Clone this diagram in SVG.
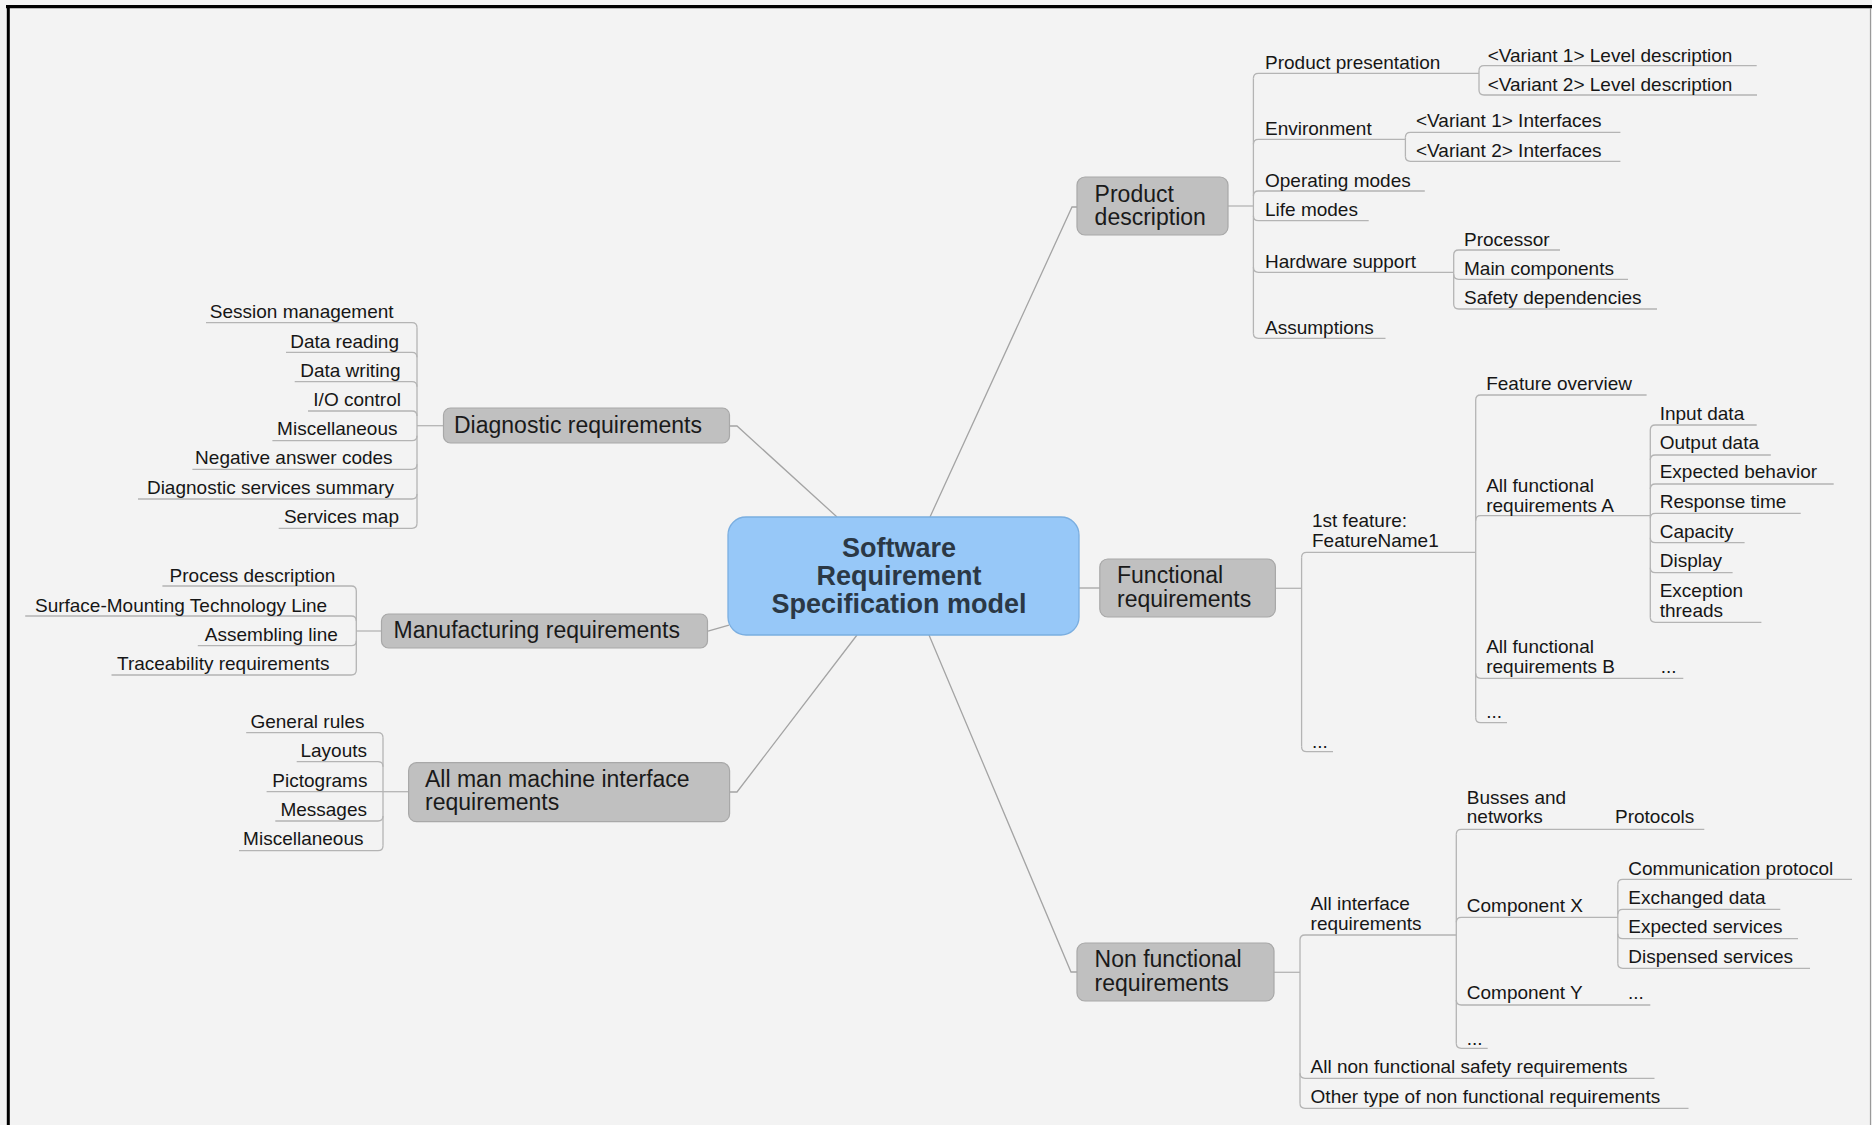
<svg xmlns="http://www.w3.org/2000/svg" width="1872" height="1125" viewBox="0 0 1872 1125">
<style>
.t{font-family:"Liberation Sans",Arial,sans-serif;font-size:19px;fill:#161616}
.e{text-anchor:end}
.m{font-family:"Liberation Sans",Arial,sans-serif;font-size:23px;fill:#1a1a1a}
.c{font-family:"Liberation Sans",Arial,sans-serif;font-size:27px;font-weight:bold;fill:#2b3845;text-anchor:middle}
.box{fill:#c0c0c0;stroke:#a8a8a8;stroke-width:1.2}
.ln{fill:none;stroke:#b4b4b4;stroke-width:1.3}
.mc{fill:none;stroke:#a4a4a4;stroke-width:1.3}
</style>
<rect width="1872" height="1125" fill="#f3f3f3"/>
<line x1="6" y1="6.7" x2="1872" y2="6.7" stroke="#000" stroke-width="3.2"/>
<line x1="8.3" y1="5" x2="8.3" y2="1125" stroke="#000" stroke-width="3"/>
<line x1="1870.5" y1="8" x2="1870.5" y2="1125" stroke="#9a9a9a" stroke-width="1.2"/>

<g id="connectors">
<path class="mc" d="M930,517 L1072,207 H1078"/>
<path class="mc" d="M837,517 L737,426 H729.5"/>
<path class="mc" d="M729,625 L708,631"/>
<path class="mc" d="M857,635 L737,792 H729.5"/>
<path class="mc" d="M1079,588 H1099.8"/>
<path class="mc" d="M929,635 L1071,972 H1077"/>

<!-- Product description -->
<path class="ln" d="M1228,206 H1253.4"/>
<path class="ln" d="M1479,73.3 H1258.4 Q1253.4,73.3 1253.4,78.3"/>
<path class="ln" d="M1405.4,139.3 H1258.4 Q1253.4,139.3 1253.4,144.3"/>
<path class="ln" d="M1424.8,191 H1258.4 Q1253.4,191 1253.4,196"/>
<path class="ln" d="M1368.7,220.7 H1258.4 Q1253.4,220.7 1253.4,215.7"/>
<path class="ln" d="M1453.7,272.3 H1258.4 Q1253.4,272.3 1253.4,267.3"/>
<path class="ln" d="M1385.5,338.3 H1258.4 Q1253.4,338.3 1253.4,333.3"/>
<path class="ln" d="M1253.4,78.3 V333.3"/>
<path class="ln" d="M1756.7,65.7 H1484 Q1479,65.7 1479,70.7"/>
<path class="ln" d="M1757,95 H1484 Q1479,95 1479,90"/>
<path class="ln" d="M1479,70.7 V90"/>
<path class="ln" d="M1620.4,132.3 H1410.4 Q1405.4,132.3 1405.4,137.3"/>
<path class="ln" d="M1620.4,161.3 H1410.4 Q1405.4,161.3 1405.4,156.3"/>
<path class="ln" d="M1405.4,137.3 V156.3"/>
<path class="ln" d="M1560,250 H1458.7 Q1453.7,250 1453.7,255"/>
<path class="ln" d="M1628,279.3 H1458.7 Q1453.7,279.3 1453.7,274.3"/>
<path class="ln" d="M1657,309 H1458.7 Q1453.7,309 1453.7,304"/>
<path class="ln" d="M1453.7,255 V304"/>

<!-- Diagnostic -->
<path class="ln" d="M417,425.7 H443.5"/>
<path class="ln" d="M206,322.7 H412 Q417,322.7 417,327.7"/>
<path class="ln" d="M286,352.3 H412 Q417,352.3 417,357.3"/>
<path class="ln" d="M294.7,381.7 H412 Q417,381.7 417,386.7"/>
<path class="ln" d="M308,411 H412 Q417,411 417,416"/>
<path class="ln" d="M272.4,440.7 H412 Q417,440.7 417,435.7"/>
<path class="ln" d="M192.4,469.3 H412 Q417,469.3 417,464.3"/>
<path class="ln" d="M138,499 H412 Q417,499 417,494"/>
<path class="ln" d="M278.7,528.3 H412 Q417,528.3 417,523.3"/>
<path class="ln" d="M417,327.7 V523.3"/>

<!-- Manufacturing -->
<path class="ln" d="M356.3,631 H381.5"/>
<path class="ln" d="M162.4,586 H351.3 Q356.3,586 356.3,591"/>
<path class="ln" d="M25.2,616 H351.3 Q356.3,616 356.3,621"/>
<path class="ln" d="M197.8,645.7 H351.3 Q356.3,645.7 356.3,640.7"/>
<path class="ln" d="M111.5,675 H351.3 Q356.3,675 356.3,670"/>
<path class="ln" d="M356.3,591 V670"/>

<!-- MMI -->
<path class="ln" d="M383,791.7 H408.6"/>
<path class="ln" d="M246.2,732.7 H378 Q383,732.7 383,737.7"/>
<path class="ln" d="M296.7,761.7 H378 Q383,761.7 383,766.7"/>
<path class="ln" d="M266.6,791.7 H383"/>
<path class="ln" d="M275.3,821 H378 Q383,821 383,816"/>
<path class="ln" d="M239,850.7 H378 Q383,850.7 383,845.7"/>
<path class="ln" d="M383,737.7 V845.7"/>

<!-- Functional -->
<path class="ln" d="M1275.4,588.3 H1301.6"/>
<path class="ln" d="M1475.7,552.3 H1306.6 Q1301.6,552.3 1301.6,557.3"/>
<path class="ln" d="M1333,751.7 H1306.6 Q1301.6,751.7 1301.6,746.7"/>
<path class="ln" d="M1301.6,557.3 V746.7"/>
<path class="ln" d="M1646.6,395 H1480.7 Q1475.7,395 1475.7,400"/>
<path class="ln" d="M1650.3,515.7 H1480.7 Q1475.7,515.7 1475.7,520.7"/>
<path class="ln" d="M1683.3,678.3 H1480.7 Q1475.7,678.3 1475.7,673.3"/>
<path class="ln" d="M1507,722.7 H1480.7 Q1475.7,722.7 1475.7,717.7"/>
<path class="ln" d="M1475.7,400 V717.7"/>
<path class="ln" d="M1756.7,425 H1655.3 Q1650.3,425 1650.3,430"/>
<path class="ln" d="M1770.8,455 H1655.3 Q1650.3,455 1650.3,460"/>
<path class="ln" d="M1833.7,484 H1655.3 Q1650.3,484 1650.3,489"/>
<path class="ln" d="M1800.7,513.3 H1655.3 Q1650.3,513.3 1650.3,518.3"/>
<path class="ln" d="M1744.6,542.7 H1655.3 Q1650.3,542.7 1650.3,537.7"/>
<path class="ln" d="M1732.6,572.7 H1655.3 Q1650.3,572.7 1650.3,567.7"/>
<path class="ln" d="M1761.4,622.3 H1655.3 Q1650.3,622.3 1650.3,617.3"/>
<path class="ln" d="M1650.3,430 V617.3"/>

<!-- Non functional -->
<path class="ln" d="M1274,972.3 H1300"/>
<path class="ln" d="M1456.3,935 H1305 Q1300,935 1300,940"/>
<path class="ln" d="M1654.5,1078.3 H1305 Q1300,1078.3 1300,1073.3"/>
<path class="ln" d="M1688.5,1108.3 H1305 Q1300,1108.3 1300,1103.3"/>
<path class="ln" d="M1300,940 V1103.3"/>
<path class="ln" d="M1704.3,829.3 H1461.3 Q1456.3,829.3 1456.3,834.3"/>
<path class="ln" d="M1617.8,917.3 H1461.3 Q1456.3,917.3 1456.3,922.3"/>
<path class="ln" d="M1650.3,1005 H1461.3 Q1456.3,1005 1456.3,1000"/>
<path class="ln" d="M1487.7,1048.3 H1461.3 Q1456.3,1048.3 1456.3,1043.3"/>
<path class="ln" d="M1456.3,834.3 V1043.3"/>
<path class="ln" d="M1852,879.3 H1622.8 Q1617.8,879.3 1617.8,884.3"/>
<path class="ln" d="M1780.3,909.3 H1622.8 Q1617.8,909.3 1617.8,914.3"/>
<path class="ln" d="M1798,938.7 H1622.8 Q1617.8,938.7 1617.8,933.7"/>
<path class="ln" d="M1810,968.3 H1622.8 Q1617.8,968.3 1617.8,963.3"/>
<path class="ln" d="M1617.8,884.3 V963.3"/>
</g>

<g id="central">
<rect x="728" y="517" width="351" height="118" rx="18" fill="#97c8f8" stroke="#7aaee0" stroke-width="1.3"/>
<text class="c" x="899" y="557">Software</text>
<text class="c" x="899" y="585">Requirement</text>
<text class="c" x="899" y="613">Specification model</text>
</g>

<g id="product-description">
<rect class="box" x="1077" y="177" width="151" height="58" rx="8"/>
<text class="m" x="1094.6" y="202">Product</text>
<text class="m" x="1094.6" y="225">description</text>
</g>
<g id="pd-children">
<text class="t" x="1265" y="69.3">Product presentation</text>
<text class="t" x="1487.7" y="61.7">&lt;Variant 1&gt; Level description</text>
<text class="t" x="1487.7" y="91">&lt;Variant 2&gt; Level description</text>
<text class="t" x="1265" y="135">Environment</text>
<text class="t" x="1416" y="127.3">&lt;Variant 1&gt; Interfaces</text>
<text class="t" x="1416" y="156.7">&lt;Variant 2&gt; Interfaces</text>
<text class="t" x="1265" y="186.7">Operating modes</text>
<text class="t" x="1265" y="215.7">Life modes</text>
<text class="t" x="1265" y="268.3">Hardware support</text>
<text class="t" x="1464" y="246">Processor</text>
<text class="t" x="1464" y="275">Main components</text>
<text class="t" x="1464" y="304">Safety dependencies</text>
<text class="t" x="1265" y="334">Assumptions</text>
</g>

<g id="diagnostic">
<rect class="box" x="443.5" y="408" width="286" height="35" rx="7"/>
<text class="m" x="454" y="433">Diagnostic requirements</text>
</g>
<g id="diag-children">
<text class="t e" x="393.6" y="318.3">Session management</text>
<text class="t e" x="399" y="347.7">Data reading</text>
<text class="t e" x="400.5" y="376.7">Data writing</text>
<text class="t e" x="401" y="406">I/O control</text>
<text class="t e" x="397.5" y="435">Miscellaneous</text>
<text class="t e" x="392.6" y="464.3">Negative answer codes</text>
<text class="t e" x="394" y="494">Diagnostic services summary</text>
<text class="t e" x="399" y="523.3">Services map</text>
</g>

<g id="manufacturing">
<rect class="box" x="381.5" y="614" width="326" height="34" rx="7"/>
<text class="m" x="393.6" y="638">Manufacturing requirements</text>
</g>
<g id="manuf-children">
<text class="t e" x="335.4" y="581.7">Process description</text>
<text class="t e" x="327.2" y="611.7">Surface-Mounting Technology Line</text>
<text class="t e" x="337.9" y="640.7">Assembling line</text>
<text class="t e" x="329.6" y="670">Traceability requirements</text>
</g>

<g id="mmi">
<rect class="box" x="408.6" y="762.7" width="321" height="59" rx="8"/>
<text class="m" x="425" y="786.7">All man machine interface</text>
<text class="m" x="425" y="810">requirements</text>
</g>
<g id="mmi-children">
<text class="t e" x="364.5" y="728.3">General rules</text>
<text class="t e" x="367" y="756.7">Layouts</text>
<text class="t e" x="367.4" y="786.7">Pictograms</text>
<text class="t e" x="367" y="816">Messages</text>
<text class="t e" x="363.5" y="845">Miscellaneous</text>
</g>

<g id="functional">
<rect class="box" x="1099.8" y="559" width="175.6" height="58" rx="8"/>
<text class="m" x="1117" y="582.7">Functional</text>
<text class="m" x="1117" y="606.7">requirements</text>
</g>
<g id="func-children">
<text class="t" x="1312" y="526.7">1st feature:</text>
<text class="t" x="1312" y="546.7">FeatureName1</text>
<text class="t" x="1486.2" y="390">Feature overview</text>
<text class="t" x="1486.2" y="491.7">All functional</text>
<text class="t" x="1486.2" y="511.7">requirements A</text>
<text class="t" x="1659.7" y="420">Input data</text>
<text class="t" x="1659.7" y="449.3">Output data</text>
<text class="t" x="1659.7" y="478.3">Expected behavior</text>
<text class="t" x="1659.7" y="508.3">Response time</text>
<text class="t" x="1659.7" y="538.3">Capacity</text>
<text class="t" x="1659.7" y="567.3">Display</text>
<text class="t" x="1659.7" y="596.7">Exception</text>
<text class="t" x="1659.7" y="616.7">threads</text>
<text class="t" x="1486.2" y="653.3">All functional</text>
<text class="t" x="1486.2" y="673.3">requirements B</text>
<text class="t" x="1660.7" y="673.3">...</text>
<text class="t" x="1486.2" y="718.3">...</text>
<text class="t" x="1312" y="747.7">...</text>
</g>

<g id="non-functional">
<rect class="box" x="1077" y="943" width="197" height="58" rx="8"/>
<text class="m" x="1094.6" y="967">Non functional</text>
<text class="m" x="1094.6" y="990.7">requirements</text>
</g>
<g id="nonfunc-children">
<text class="t" x="1310.6" y="910">All interface</text>
<text class="t" x="1310.6" y="930">requirements</text>
<text class="t" x="1466.8" y="804.3">Busses and</text>
<text class="t" x="1466.8" y="823.3">networks</text>
<text class="t" x="1615" y="823.3">Protocols</text>
<text class="t" x="1466.8" y="911.7">Component X</text>
<text class="t" x="1628.3" y="875">Communication protocol</text>
<text class="t" x="1628.3" y="904">Exchanged data</text>
<text class="t" x="1628.3" y="933.3">Expected services</text>
<text class="t" x="1628.3" y="962.7">Dispensed services</text>
<text class="t" x="1466.8" y="999.3">Component Y</text>
<text class="t" x="1628" y="999.3">...</text>
<text class="t" x="1466.8" y="1045">...</text>
<text class="t" x="1310.6" y="1073.3">All non functional safety requirements</text>
<text class="t" x="1310.6" y="1103.3">Other type of non functional requirements</text>
</g>
</svg>
